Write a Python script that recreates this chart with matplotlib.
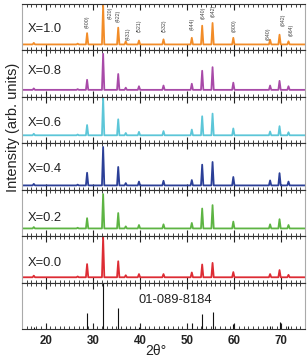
import matplotlib
matplotlib.use("Agg")
import matplotlib.pyplot as plt
import numpy as np

plt.rcParams['font.family'] = ['Liberation Sans', 'DejaVu Sans']

# peak positions (2theta, deg) and hkl labels
peak_pos = [17.5, 26.8, 28.8, 32.2, 35.4, 37.0, 39.8, 45.0, 51.0, 53.2, 55.4, 59.8, 67.6, 69.6, 71.5]
peak_hkl = ['(211)', '(321)', '(400)', '(420)', '(422)', '(431)', '(521)', '(532)', '(444)',
            '(640)', '(642)', '(800)', '(840)', '(842)', '(664)']

# relative intensities (%) of each sample, (420) = 100
samples = ['X=1.0', 'X=0.8', 'X=0.6', 'X=0.4', 'X=0.2', 'X=0.0']
I_10 = [4, 2, 29, 100, 43, 8, 10, 13, 17, 48, 55, 17, 12, 25, 8]
I_08 = [4, 2, 28, 100, 44, 6, 10, 12, 17, 53, 63, 20, 12, 25, 10]
I_06 = [4, 2, 27, 100, 42, 6, 9, 11, 15, 50, 57, 18, 10, 24, 8]
I_04 = [4, 2, 33, 100, 48, 6, 10, 12, 14, 54, 61, 22, 13, 32, 10]
I_02 = [4, 2, 30, 100, 45, 6, 10, 12, 16, 58, 68, 20, 12, 27, 10]
I_00 = [4, 2, 33, 100, 40, 5, 8, 8, 12, 32, 36, 13, 8, 18, 6]
intensities = [I_10, I_08, I_06, I_04, I_02, I_00]

# reference card 01-089-8184
ref_I = [5, 1, 35, 100, 45, 3, 5, 6, 13, 32, 36, 10, 6, 16, 6]

colors = ['#F28C28', '#A84AA8', '#5CC6D8', '#2B3F97', '#5DB443', '#DD2C34']
# (baseline px above panel bottom, (420) height px) per panel
layout = [(6, 39), (7, 36), (8, 38), (4.3, 38.4), (7.7, 34.3), (5.3, 40)]
label_y = [0.46, 0.55, 0.43, 0.44, 0.40, 0.43]

# hkl label positions for top panel (x in 2theta, y in axes fraction)
hkl_show = ['(400)', '(420)', '(422)', '(431)', '(521)', '(532)', '(444)', '(640)', '(642)',
            '(800)', '(840)', '(842)', '(664)']
hkl_x = [28.85, 33.7, 35.4, 37.5, 39.85, 45.2, 51.1, 53.5, 55.6, 59.9, 67.1, 70.3, 72.0]
hkl_y = [0.61, 0.81, 0.74, 0.35, 0.54, 0.54, 0.57, 0.80, 0.85, 0.54, 0.35, 0.65, 0.45]

W, H = 308, 359
fig = plt.figure(figsize=(W / 100, H / 100), dpi=100)
left, right = 22 / W, 305 / W
top_px, bot_px = 4, 329
ph = (bot_px - top_px) / 7.0

hw = 0.25


def profile(pos, ints):
    xs = [15.0]
    ys = [0.0]
    for p, h in sorted(zip(pos, ints)):
        xs += [p - hw, p, p + hw]
        ys += [0.0, h, 0.0]
    xs.append(75.0)
    ys.append(0.0)
    return xs, ys


axes = []
for i in range(7):
    y0 = 1 - (top_px + (i + 1) * ph) / H
    ax = fig.add_axes([left, y0, right - left, ph / H])
    axes.append(ax)
    ax.set_xlim(15, 75)
    ax.set_yticks([])
    ax.set_xticks(np.arange(20, 71, 10))
    ax.set_xticks(np.arange(15, 76, 1), minor=True)
    ax.tick_params(axis='x', which='both', direction='in', top=True, bottom=True, colors='#222222')
    ax.tick_params(axis='x', which='major', length=4.5, width=0.8)
    ax.tick_params(axis='x', which='minor', length=2.2, width=0.6)
    for s in ['left', 'right']:
        ax.spines[s].set_color('#aaaaaa')
        ax.spines[s].set_linewidth(0.8)
    for s in ['top', 'bottom']:
        ax.spines[s].set_color('#333333')
        ax.spines[s].set_linewidth(0.8)
    if i < 6:
        ax.tick_params(axis='x', labelbottom=False)
        d, hh = layout[i]
        ax.set_ylim(-d * 100 / hh, (ph - d) * 100 / hh)
        xs, ys = profile(peak_pos, intensities[i])
        ax.plot(xs, ys, color=colors[i], lw=1.3)
        ax.text(16.3, label_y[i], samples[i], transform=ax.get_xaxis_transform(),
                fontsize=9.3, va='center', ha='left', color='#222222')
    else:
        ax.set_ylim(0, 100)
        ax.vlines(peak_pos, 0, ref_I, color='#111111', lw=0.8)
        ax.text(47.5, 0.63, '01-089-8184', transform=ax.get_xaxis_transform(),
                fontsize=9.3, ha='center', va='center', color='#222222')
        ax.tick_params(axis='x', labelsize=8.3, pad=4.5)
        for lb in ax.get_xticklabels():
            lb.set_fontweight('bold')

for lab, x, y in zip(hkl_show, hkl_x, hkl_y):
    axes[0].text(x, y, lab, transform=axes[0].get_xaxis_transform(), rotation=90,
                 fontsize=3.8, ha='center', va='center', color='#444444')

fig.text(13 / W, 1 - 127 / H, 'Intensity (arb. units)', rotation=90, fontsize=10.5,
         ha='center', va='center', color='#222222')
fig.text(156 / W, 1 / H, '2θ°', fontsize=10, ha='center', va='bottom', color='#222222')

fig.savefig('out.png', dpi=100)
